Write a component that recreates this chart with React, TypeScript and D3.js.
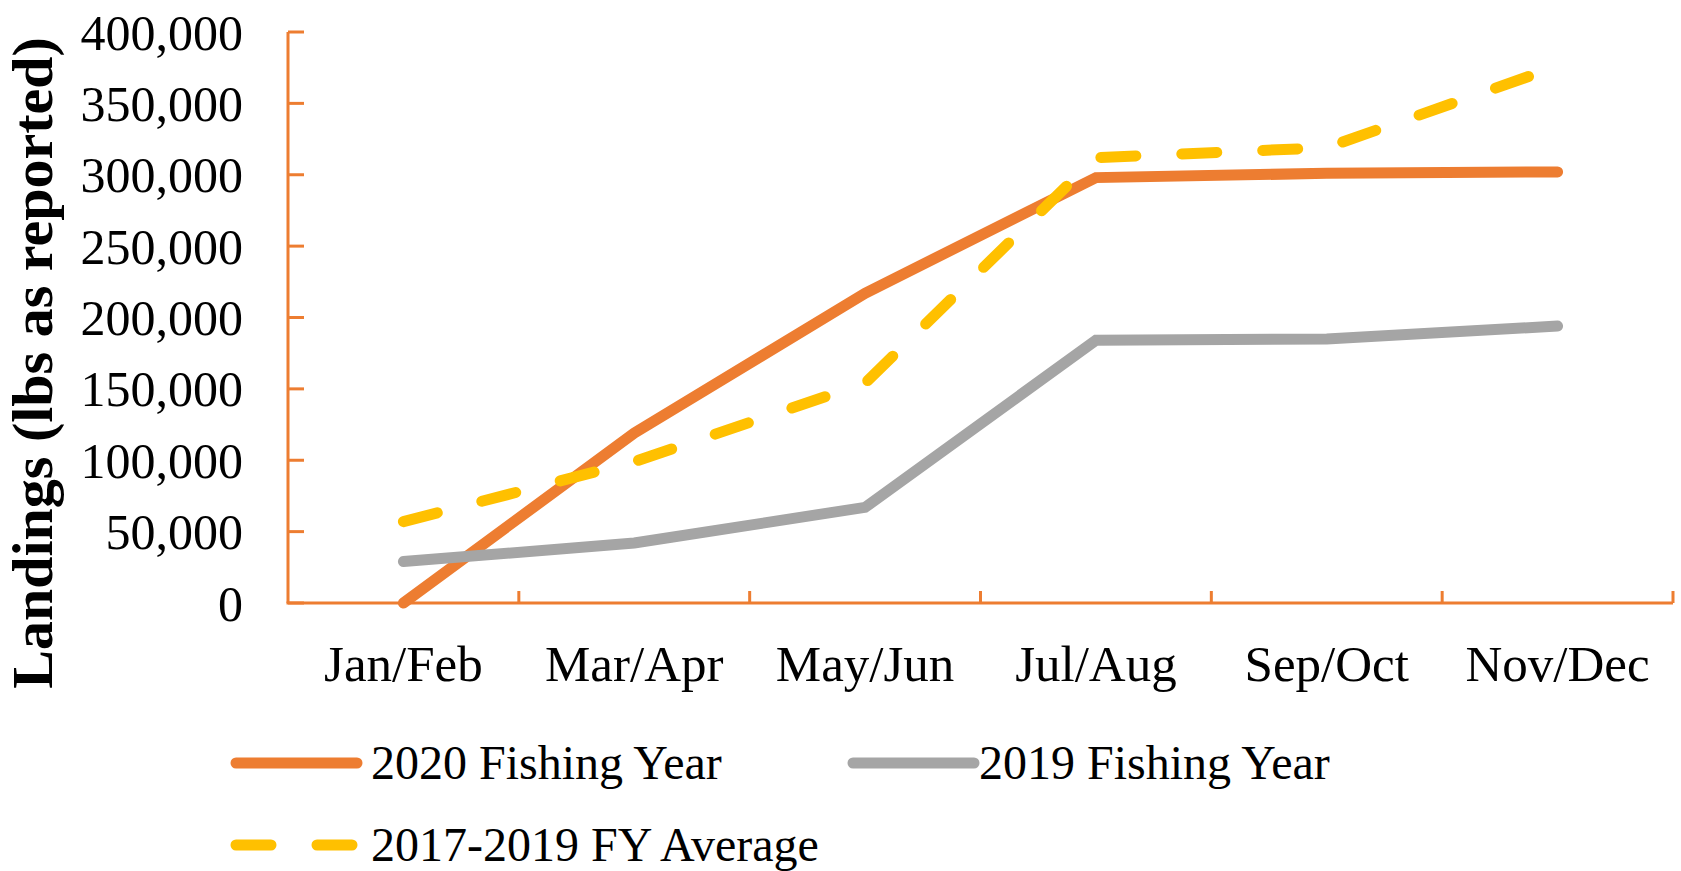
import React from "react";
import * as d3 from "d3";

const categories = ["Jan/Feb", "Mar/Apr", "May/Jun", "Jul/Aug", "Sep/Oct", "Nov/Dec"];
const fy2020 = [0, 119000, 217000, 298000, 301000, 302000];
const fy2019 = [29000, 42000, 67000, 184000, 185000, 194000];
const fyAverage = [57000, 99000, 154000, 312000, 319000, 376000];
const yTicks = [0, 50000, 100000, 150000, 200000, 250000, 300000, 350000, 400000];
const seriesNames = ["2020 Fishing Year", "2019 Fishing Year", "2017-2019 FY Average"];

const W = 1681;
const H = 871;
const FONT = "'Liberation Serif', 'Times New Roman', serif";
const AXIS = "#ED7D31";
const COLORS = ["#ED7D31", "#A5A5A5", "#FFC000"];
const DASH = "35 46";

export default function App() {
  const x = d3.scaleBand<string>().domain(categories).range([288, 1673]).padding(0);
  const y = d3.scaleLinear().domain([0, 400000]).range([603, 32]);
  const cx = (c: string) => (x(c) as number) + x.bandwidth() / 2;
  const line = d3
    .line<number>()
    .x((_, i) => cx(categories[i]))
    .y((d) => y(d));

  const series = [
    { name: seriesNames[0], values: fy2020, color: COLORS[0], dash: undefined },
    { name: seriesNames[1], values: fy2019, color: COLORS[1], dash: undefined },
    { name: seriesNames[2], values: fyAverage, color: COLORS[2], dash: DASH },
  ];
  const fmt = d3.format(",");
  const [x0, x1] = x.range();
  const [y0, y1] = y.range();

  const legend = [
    { s: series[0], lx: 236, ly: 763, tx: 371 },
    { s: series[1], lx: 853, ly: 763, tx: 979 },
    { s: series[2], lx: 236, ly: 845, tx: 371 },
  ];

  return (
    <svg
      width={W}
      height={H}
      style={{ position: "absolute", left: 0, top: 0, background: "#fff" }}
      fontFamily={FONT}
    >
      <rect width={W} height={H} fill="#fff" />
      {/* Y axis */}
      <line x1={x0} x2={x0} y1={y1} y2={y0} stroke={AXIS} strokeWidth={3} />
      {yTicks.map((t) => (
        <g key={t}>
          <line x1={x0} x2={x0 + 16} y1={y(t)} y2={y(t)} stroke={AXIS} strokeWidth={3} />
          <text x={243} y={y(t)} dy="0.35em" textAnchor="end" fontSize={50} fill="#000">
            {fmt(t)}
          </text>
        </g>
      ))}
      {/* X axis */}
      <line x1={x0 - 1.5} x2={x1} y1={y0} y2={y0} stroke={AXIS} strokeWidth={3} />
      {categories.map((c) => (
        <g key={c}>
          <line
            x1={(x(c) as number) + x.bandwidth()}
            x2={(x(c) as number) + x.bandwidth()}
            y1={y0}
            y2={y0 - 12}
            stroke={AXIS}
            strokeWidth={3}
          />
          <text x={cx(c)} y={681} textAnchor="middle" fontSize={51} fill="#000">
            {c}
          </text>
        </g>
      ))}
      {/* Y title */}
      <text
        transform={`translate(52, 363) rotate(-90)`}
        textAnchor="middle"
        fontSize={58}
        fontWeight="bold"
        fill="#000"
      >
        Landings (lbs as reported)
      </text>
      {/* Lines */}
      {series.map((s) => (
        <path
          key={s.name}
          d={line(s.values) as string}
          fill="none"
          stroke={s.color}
          strokeWidth={11}
          strokeLinecap="round"
          strokeLinejoin="miter"
          strokeDasharray={s.dash}
        />
      ))}
      {/* Legend */}
      {legend.map(({ s, lx, ly, tx }) => (
        <g key={s.name}>
          <line
            x1={lx}
            x2={lx + 121}
            y1={ly}
            y2={ly}
            stroke={s.color}
            strokeWidth={11}
            strokeLinecap="round"
            strokeDasharray={s.dash}
          />
          <text x={tx} y={ly} dy="0.33em" fontSize={48} fill="#000">
            {s.name}
          </text>
        </g>
      ))}
    </svg>
  );
}
